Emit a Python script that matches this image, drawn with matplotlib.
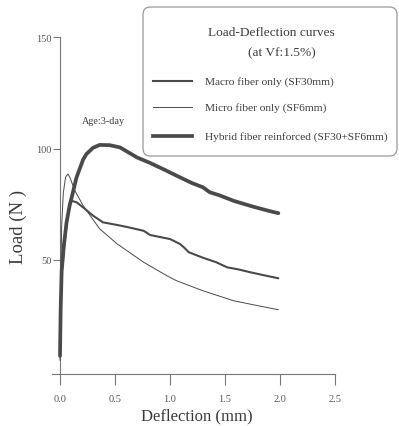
import matplotlib
matplotlib.use("Agg")
import matplotlib.pyplot as plt
from matplotlib.lines import Line2D
from matplotlib.patches import FancyBboxPatch

# Load-deflection data (deflection in mm, load in N)
macro_x = [0.0, 0.008, 0.015, 0.04, 0.07, 0.10, 0.15, 0.21, 0.30, 0.39, 0.52, 0.61, 0.76,
           0.82, 1.0, 1.09, 1.13, 1.17, 1.30, 1.42, 1.52, 1.62, 1.73, 1.85, 1.985]
macro_y = [10, 32, 44, 57, 70, 76.6, 75.9, 73.6, 69.9, 66.9, 65.7, 64.8, 63.1,
           61.2, 59.4, 57.2, 55.5, 53.5, 51, 49, 46.7, 45.8, 44.5, 43.2, 41.8]

micro_x = [0.0, 0.005, 0.01, 0.015, 0.03, 0.05, 0.072, 0.09, 0.136, 0.21, 0.36, 0.52,
           0.76, 0.97, 1.06, 1.30, 1.58, 1.80, 1.985]
micro_y = [5, 30, 50, 65, 80, 87, 88.6, 87, 81, 74.4, 64, 57.2,
           49, 43, 40.7, 36.2, 31.7, 29.5, 27.7]

hybrid_x = [0.0, 0.006, 0.015, 0.036, 0.06, 0.09, 0.106, 0.15, 0.21, 0.24, 0.30, 0.36, 0.45,
            0.545, 0.70, 0.82, 0.97, 1.06, 1.20, 1.30, 1.36, 1.45, 1.58, 1.75, 1.90, 1.985]
hybrid_y = [7, 28, 45, 57, 67, 75, 78, 87, 95, 97.5, 100.3, 101.6, 101.5,
            100.5, 96, 93.5, 90, 87.8, 84.5, 82.6, 80.4, 79, 76.5, 74, 72, 71]

series_labels = ["Macro fiber only (SF30mm)",
                 "Micro fiber only (SF6mm)",
                 "Hybrid fiber reinforced (SF30+SF6mm)"]
x_ticks = [0.0, 0.5, 1.0, 1.5, 2.0, 2.5]
x_tick_labels = ["0.0", "0.5", "1.0", "1.5", "2.0", "2.5"]
y_ticks = [50, 100, 150]

FONT = "Liberation Serif"
LINE_C = "#4a4a4a"
TEXT_C = "#3c3c3c"
TICK_C = "#555555"
widths = [1.5, 0.7, 2.7]

W, H = 399, 427
fig = plt.figure(figsize=(W / 100, H / 100), dpi=100)

# axes placement in pixel units
x0_px, x_unit = 60.0, 110.0
y0_px, y_unit = 372.5, 2.23
xmin, xmax = -0.075, 2.5
ymin, ymax = -0.9, 150
left = (x0_px + xmin * x_unit) / W
right = (x0_px + xmax * x_unit) / W
bottom = (H - (y0_px - ymin * y_unit)) / H
top = (H - (y0_px - ymax * y_unit)) / H
ax = fig.add_axes([left, bottom, right - left, top - bottom])
ax.set_xlim(xmin, xmax)
ax.set_ylim(ymin, ymax)

for xs, ys, lw, lab in zip([macro_x, micro_x, hybrid_x], [macro_y, micro_y, hybrid_y],
                           widths, series_labels):
    ax.plot(xs, ys, color=LINE_C, lw=lw, solid_capstyle="round",
            solid_joinstyle="round", label=lab, zorder=3)

ax.spines["top"].set_visible(False)
ax.spines["right"].set_visible(False)
ax.spines["left"].set_position(("data", 0))
ax.spines["left"].set_bounds(ymin, 150)
ax.spines["bottom"].set_position(("data", ymin))
for s in ("left", "bottom"):
    ax.spines[s].set_color("#777777")
    ax.spines[s].set_linewidth(0.8)

ax.set_xticks(x_ticks)
ax.set_xticklabels(x_tick_labels)
ax.set_yticks(y_ticks)
ax.tick_params(axis="x", direction="out", length=8, width=0.8, color="#777777",
               pad=7, labelsize=7.5, labelcolor=TICK_C)
ax.tick_params(axis="y", direction="out", length=5, width=0.8, color="#777777",
               pad=1, labelsize=7.5, labelcolor=TICK_C)
for t in ax.get_xticklabels() + ax.get_yticklabels():
    t.set_fontfamily(FONT)

fig.text(197 / W, 1 - 416 / H, "Deflection (mm)", fontsize=12, family=FONT,
         color=TEXT_C, ha="center", va="center")
fig.text(18 / W, 1 - 227 / H, "Load (N )", fontsize=13.5, family=FONT,
         color=TEXT_C, ha="center", va="center", rotation=90)
fig.text(103 / W, 1 - 121 / H, "Age:3-day", fontsize=7.3, family=FONT,
         color=TEXT_C, ha="center", va="center")

# legend panel
bx0, by0, bx1, by1 = 143, 8, 397, 157
box = FancyBboxPatch((bx0 / W, 1 - by1 / H), (bx1 - bx0) / W, (by1 - by0) / H,
                     boxstyle="round,pad=0,rounding_size=0.018",
                     transform=fig.transFigure, facecolor="white",
                     edgecolor="#9a9a9a", linewidth=0.9, zorder=5)
fig.add_artist(box)

fig.text(271 / W, 1 - 33 / H, "Load-Deflection curves", fontsize=9.6, family=FONT,
         color=TEXT_C, ha="center", va="center", zorder=6)
fig.text(282 / W, 1 - 53 / H, "(at Vf:1.5%)", fontsize=9.6, family=FONT,
         color=TEXT_C, ha="center", va="center", zorder=6)

entry_y = [82, 108, 137]
for ypx, lw, lab in zip(entry_y, widths, series_labels):
    fig.add_artist(Line2D([153 / W, 192 / W], [1 - ypx / H, 1 - ypx / H],
                          transform=fig.transFigure, color=LINE_C, lw=lw, zorder=6))
    fig.text(205 / W, 1 - ypx / H, lab, fontsize=8.2, family=FONT,
             color=TEXT_C, ha="left", va="center", zorder=6)

fig.savefig("out.png", dpi=100, facecolor="white")
